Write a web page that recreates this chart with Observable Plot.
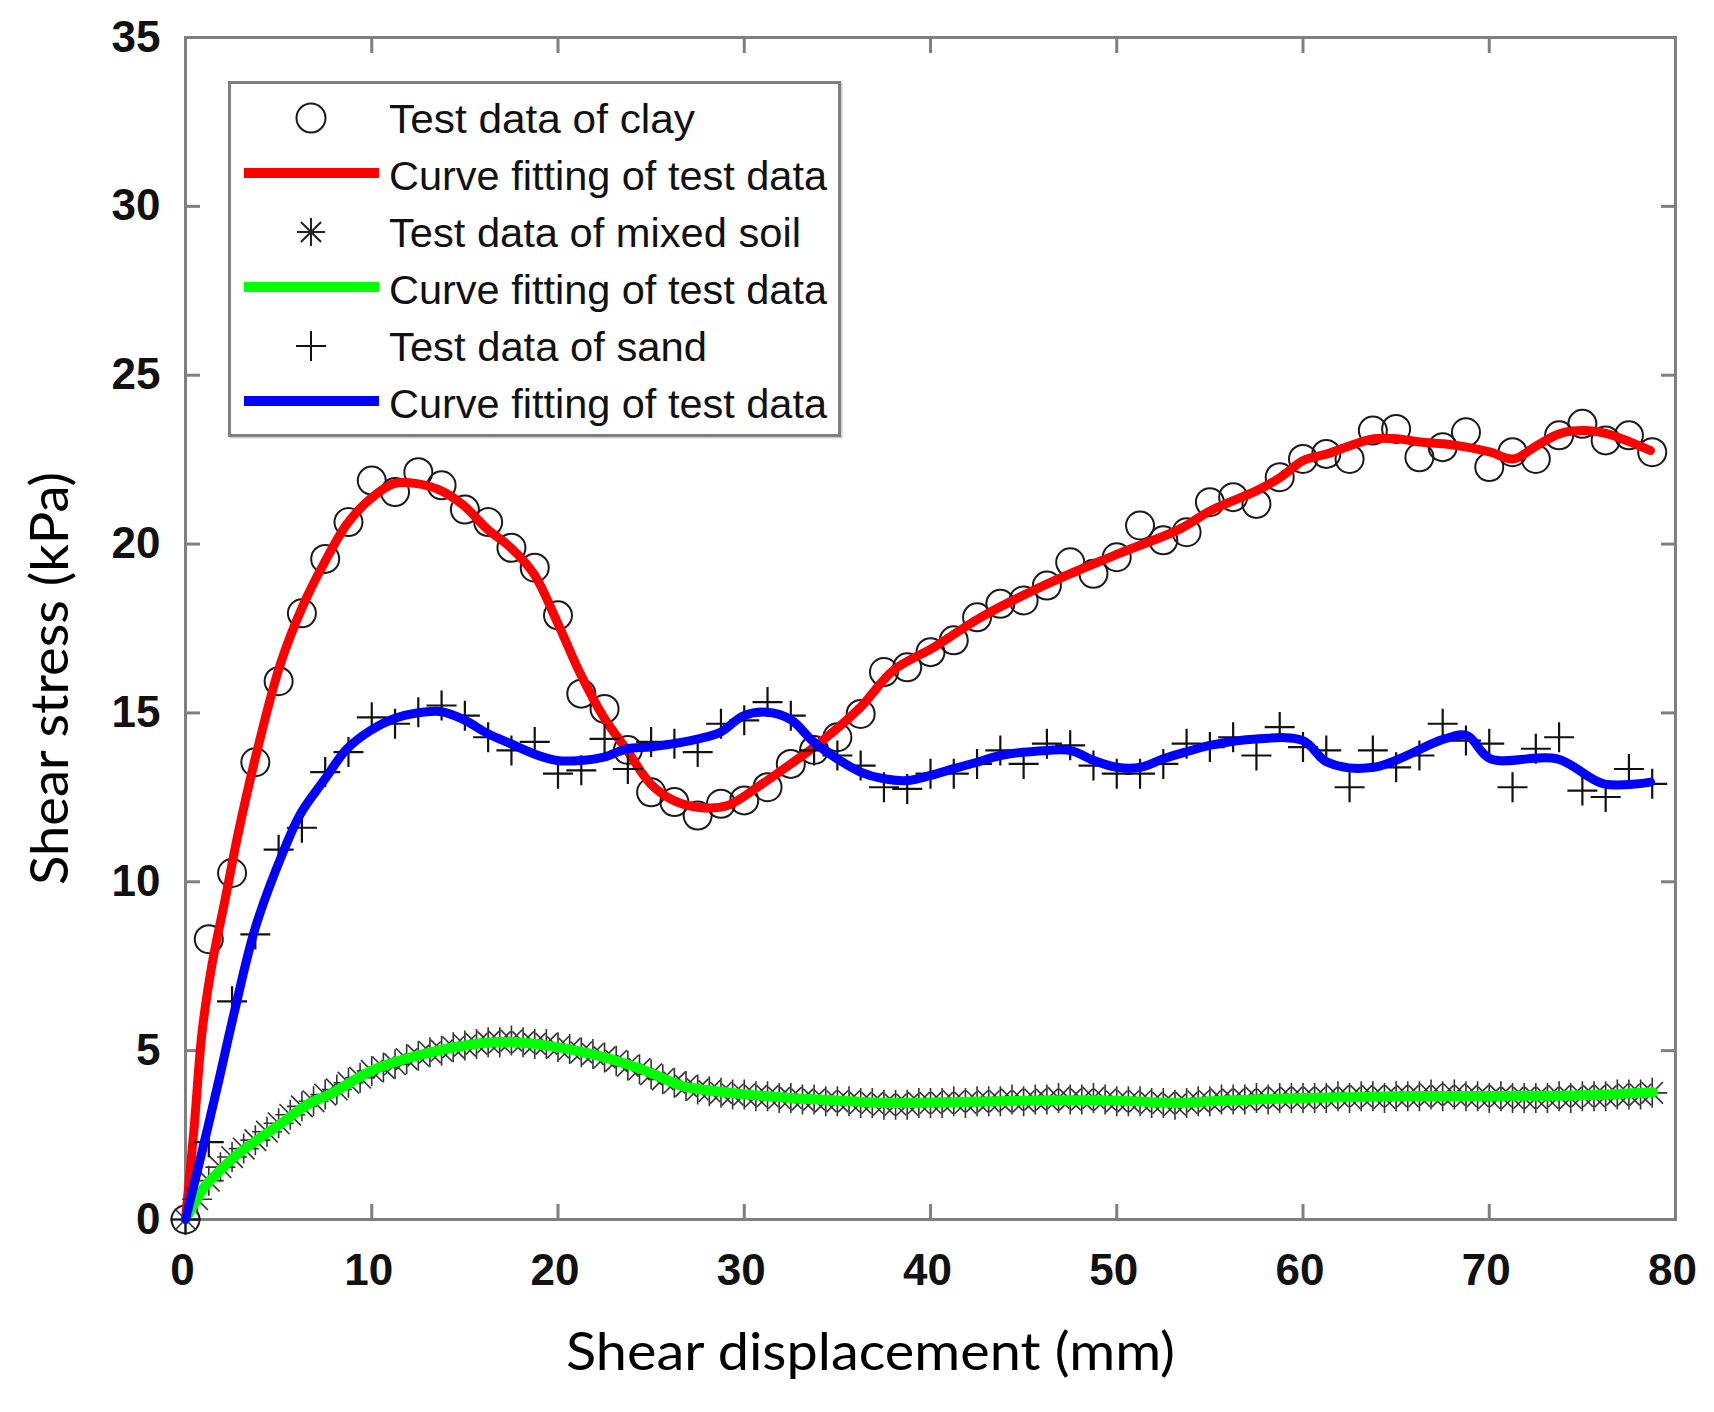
<!DOCTYPE html>
<html>
<head>
<meta charset="utf-8">
<script src="https://cdn.jsdelivr.net/npm/d3@7"></script>
<script src="https://cdn.jsdelivr.net/npm/@observablehq/plot@0.6"></script>
<style>
  html, body { margin: 0; padding: 0; background: #fff; }
  #chart { position: relative; width: 1714px; height: 1412px; }
</style>
</head>
<body>
<div id="chart"></div>
<script>
// ---------- data ----------
const clayDisp = [0, 1.25, 2.5, 3.75, 5, 6.25, 7.5, 8.75, 10, 11.25, 12.5, 13.75, 15, 16.25, 17.5, 18.75, 20, 21.25, 22.5, 23.75, 25, 26.25, 27.5, 28.75, 30, 31.25, 32.5, 33.75, 35, 36.25, 37.5, 38.75, 40, 41.25, 42.5, 43.75, 45, 46.25, 47.5, 48.75, 50, 51.25, 52.5, 53.75, 55, 56.25, 57.5, 58.75, 60, 61.25, 62.5, 63.75, 65, 66.25, 67.5, 68.75, 70, 71.25, 72.5, 73.75, 75, 76.25, 77.5, 78.75];
const clayStress = [0, 8.3, 10.26, 13.54, 15.94, 17.95, 19.56, 20.65, 21.88, 21.54, 22.13, 21.74, 21.02, 20.65, 19.89, 19.3, 17.89, 15.57, 15.12, 13.9, 12.65, 12.36, 11.96, 12.31, 12.41, 12.8, 13.49, 13.9, 14.28, 14.97, 16.21, 16.35, 16.8, 17.15, 17.83, 18.23, 18.33, 18.77, 19.46, 19.12, 19.61, 20.55, 20.11, 20.35, 21.24, 21.39, 21.19, 21.98, 22.52, 22.67, 22.52, 23.36, 23.41, 22.57, 22.87, 23.31, 22.28, 22.72, 22.52, 23.22, 23.56, 23.07, 23.22, 22.72];

const clayFitDisp = [0, 0.45, 0.9, 1.43, 2.15, 2.86, 3.85, 5.1, 6.35, 7.43, 8.68, 9.93, 11.18, 12.43, 13.69, 14.94, 16.19, 17.45, 18.7, 19.96, 21.2, 22.46, 23.71, 24.97, 26.2, 27.6, 29.1, 30.7, 32.5, 34.1, 36.24, 38.0, 40.2, 42.7, 46.27, 49.84, 53.4, 55.03, 57.54, 58.8, 60.04, 61.3, 62.55, 63.8, 65.06, 66.3, 67.56, 68.8, 70.07, 71.3, 72.57, 73.8, 75.08, 76.3, 77.58, 78.66];
const clayFitStress = [0, 2.64, 5.6, 7.57, 9.54, 11.52, 13.89, 16.46, 18.23, 19.42, 20.6, 21.34, 21.79, 21.79, 21.59, 21.14, 20.45, 19.9, 19.12, 17.69, 16.16, 14.87, 13.89, 12.9, 12.41, 12.2, 12.26, 12.8, 13.49, 14.14, 15.17, 16.26, 16.95, 17.83, 18.82, 19.66, 20.45, 20.99, 21.59, 21.98, 22.48, 22.67, 22.92, 23.12, 23.12, 23.02, 22.97, 22.87, 22.72, 22.52, 22.92, 23.27, 23.36, 23.27, 23.02, 22.77];

const mixedDisp = [0, 0.625, 1.25, 1.875, 2.5, 3.125, 3.75, 4.375, 5, 5.625, 6.25, 6.875, 7.5, 8.125, 8.75, 9.375, 10, 10.625, 11.25, 11.875, 12.5, 13.125, 13.75, 14.375, 15, 15.625, 16.25, 16.875, 17.5, 18.125, 18.75, 19.375, 20, 20.625, 21.25, 21.875, 22.5, 23.125, 23.75, 24.375, 25, 25.625, 26.25, 26.875, 27.5, 28.125, 28.75, 29.375, 30, 30.625, 31.25, 31.875, 32.5, 33.125, 33.75, 34.375, 35, 35.625, 36.25, 36.875, 37.5, 38.125, 38.75, 39.375, 40, 40.625, 41.25, 41.875, 42.5, 43.125, 43.75, 44.375, 45, 45.625, 46.25, 46.875, 47.5, 48.125, 48.75, 49.375, 50, 50.625, 51.25, 51.875, 52.5, 53.125, 53.75, 54.375, 55, 55.625, 56.25, 56.875, 57.5, 58.125, 58.75, 59.375, 60, 60.625, 61.25, 61.875, 62.5, 63.125, 63.75, 64.375, 65, 65.625, 66.25, 66.875, 67.5, 68.125, 68.75, 69.375, 70, 70.625, 71.25, 71.875, 72.5, 73.125, 73.75, 74.375, 75, 75.625, 76.25, 76.875, 77.5, 78.125, 78.75];
const mixedStress = [0, 0.6, 1.15, 1.55, 1.85, 2.1, 2.35, 2.6, 2.85, 3.1, 3.35, 3.5, 3.7, 3.85, 4.05, 4.2, 4.4, 4.5, 4.6, 4.75, 4.85, 4.95, 5.0, 5.1, 5.15, 5.2, 5.25, 5.25, 5.3, 5.25, 5.2, 5.2, 5.1, 5.05, 4.95, 4.9, 4.8, 4.7, 4.55, 4.45, 4.3, 4.15, 4.05, 3.95, 3.85, 3.8, 3.75, 3.7, 3.7, 3.65, 3.65, 3.6, 3.6, 3.55, 3.55, 3.5, 3.5, 3.5, 3.45, 3.45, 3.4, 3.4, 3.4, 3.45, 3.45, 3.45, 3.5, 3.45, 3.5, 3.5, 3.5, 3.55, 3.5, 3.55, 3.55, 3.6, 3.55, 3.55, 3.6, 3.55, 3.5, 3.5, 3.5, 3.45, 3.45, 3.4, 3.45, 3.5, 3.5, 3.55, 3.55, 3.55, 3.6, 3.55, 3.6, 3.6, 3.6, 3.6, 3.6, 3.65, 3.6, 3.65, 3.65, 3.6, 3.65, 3.65, 3.65, 3.7, 3.65, 3.7, 3.65, 3.65, 3.6, 3.65, 3.6, 3.6, 3.6, 3.6, 3.65, 3.6, 3.65, 3.65, 3.65, 3.7, 3.7, 3.7, 3.75];

const mixedFitDisp = [0, 0.5, 1.0, 2.42, 3.04, 5.1, 6.62, 7.79, 10.2, 13.15, 15.84, 17.63, 19.42, 22.1, 24.43, 26.58, 27.1, 29.8, 32.5, 35.2, 38.0, 40.5, 45, 50, 53.4, 55, 60, 65, 70, 75, 78.8];
const mixedFitStress = [0, 0.5, 0.95, 1.75, 2.04, 2.83, 3.43, 3.72, 4.46, 4.95, 5.22, 5.25, 5.15, 4.86, 4.46, 3.97, 3.9, 3.72, 3.6, 3.52, 3.45, 3.47, 3.52, 3.52, 3.45, 3.5, 3.6, 3.65, 3.66, 3.68, 3.77];

const sandDisp = [0, 1.25, 2.5, 3.75, 5, 6.25, 7.5, 8.75, 10, 11.25, 12.5, 13.75, 15, 16.25, 17.5, 18.75, 20, 21.25, 22.5, 23.75, 25, 26.25, 27.5, 28.75, 30, 31.25, 32.5, 33.75, 35, 36.25, 37.5, 38.75, 40, 41.25, 42.5, 43.75, 45, 46.25, 47.5, 48.75, 50, 51.25, 52.5, 53.75, 55, 56.25, 57.5, 58.75, 60, 61.25, 62.5, 63.75, 65, 66.25, 67.5, 68.75, 70, 71.25, 72.5, 73.75, 75, 76.25, 77.5, 78.75];
const sandStress = [0, 2.29, 6.46, 8.44, 10.95, 11.6, 13.25, 13.84, 14.87, 14.68, 15.02, 15.22, 14.92, 14.28, 13.89, 14.14, 13.2, 13.3, 14.23, 13.34, 14.14, 14.09, 13.84, 14.68, 14.78, 15.32, 14.92, 13.89, 13.74, 13.44, 12.8, 12.75, 13.2, 13.2, 13.49, 13.89, 13.49, 14.09, 14.04, 13.44, 13.2, 13.2, 13.49, 14.09, 13.99, 14.28, 13.74, 14.58, 13.99, 13.89, 12.8, 13.89, 13.39, 13.74, 14.68, 14.18, 14.09, 12.8, 13.94, 14.28, 12.7, 12.51, 13.34, 12.9];

const sandFitDisp = [0, 0.9, 1.79, 2.6, 3.76, 5.28, 6.17, 7.43, 8.68, 9.93, 11.18, 12.43, 13.69, 14.94, 16.19, 17.45, 18.7, 19.96, 21.2, 22.46, 23.71, 24.97, 26.2, 27.6, 28.72, 29.98, 31.26, 32.5, 33.73, 35.0, 36.24, 37.5, 38.75, 40, 41.25, 42.5, 43.76, 46.27, 47.5, 48.77, 50.0, 51.28, 52.5, 53.75, 55.0, 57.5, 60.0, 61.3, 63.8, 67.6, 68.8, 70.07, 73.65, 76.15, 78.66];
const sandFitStress = [0, 2.04, 4.12, 6.09, 8.66, 10.93, 12.01, 13.0, 13.94, 14.48, 14.83, 15.0, 15.04, 14.8, 14.4, 14.09, 13.79, 13.59, 13.59, 13.69, 13.94, 13.99, 14.09, 14.24, 14.43, 14.92, 15.02, 14.8, 14.14, 13.64, 13.25, 13.05, 13.0, 13.15, 13.35, 13.54, 13.74, 13.89, 13.89, 13.59, 13.39, 13.39, 13.64, 13.85, 14.04, 14.23, 14.18, 13.54, 13.39, 14.23, 14.33, 13.64, 13.64, 12.9, 12.95];

const xTicks = [0, 10, 20, 30, 40, 50, 60, 70, 80];
const yTicks = [0, 5, 10, 15, 20, 25, 30, 35];
const xLabel = "Shear displacement (mm)";
const yLabel = "Shear stress (kPa)";
const legendLabels = ["Test data of clay", "Curve fitting of test data", "Test data of mixed soil", "Curve fitting of test data", "Test data of sand", "Curve fitting of test data"];

// ---------- helpers ----------
const zip = (xs, ys) => xs.map((x, i) => ({x, y: ys[i]}));
const plusSymbol = {draw(ctx, size) {
  const r = Math.sqrt(size / Math.PI);
  ctx.moveTo(-r, 0); ctx.lineTo(r, 0); ctx.moveTo(0, -r); ctx.lineTo(0, r);
}};
const starSymbol = {draw(ctx, size) {
  const r = Math.sqrt(size / Math.PI), d = r * 0.72;
  ctx.moveTo(0, -r); ctx.lineTo(0, r); ctx.moveTo(-r, 0); ctx.lineTo(r, 0);
  ctx.moveTo(-d, -d); ctx.lineTo(d, d); ctx.moveTo(-d, d); ctx.lineTo(d, -d);
}};

const clay = zip(clayDisp, clayStress);
const clayFit = zip(clayFitDisp, clayFitStress);
const mixed = zip(mixedDisp, mixedStress);
const mixedFit = zip(mixedFitDisp, mixedFitStress);
const sand = zip(sandDisp, sandStress);
const sandFit = zip(sandFitDisp, sandFitStress);

const tickFont = "'Liberation Sans', Arial, sans-serif";
const labelFont = "Lato, 'Open Sans', sans-serif";
const gray = "#7f7f7f";

const plot = Plot.plot({
  width: 1714,
  height: 1412,
  marginLeft: 185,
  marginRight: 39,
  marginTop: 37,
  marginBottom: 193,
  style: {background: "#fff", fontFamily: tickFont},
  x: {domain: [0, 80]},
  y: {domain: [0, 35]},
  marks: [
    // inward ticks on all four sides
    Plot.axisX(xTicks, {anchor: "bottom", tickSize: -15, tickFormat: () => "", stroke: gray, strokeWidth: 3, label: null}),
    Plot.axisX(xTicks, {anchor: "top", tickSize: -15, tickFormat: () => "", stroke: gray, strokeWidth: 3, label: null}),
    Plot.axisY(yTicks, {anchor: "left", tickSize: -15, tickFormat: () => "", stroke: gray, strokeWidth: 3, label: null}),
    Plot.axisY(yTicks, {anchor: "right", tickSize: -15, tickFormat: () => "", stroke: gray, strokeWidth: 3, label: null}),
    // tick labels
    Plot.axisX(xTicks, {anchor: "bottom", tickSize: 0, tickPadding: 34, dx: -3, fontSize: 44, fontWeight: "bold", fontFamily: tickFont, fill: "#111", label: null}),
    Plot.axisY(yTicks, {anchor: "left", tickSize: 0, tickPadding: 25, fontSize: 44, fontWeight: "bold", fontFamily: tickFont, fill: "#111", label: null}),
    Plot.frame({stroke: gray, strokeWidth: 3}),
    // axis titles
    Plot.text([xLabel], {text: d => d, frameAnchor: "bottom", textAnchor: "middle", dx: -60, dy: 150, fontSize: 52, fontFamily: labelFont, fill: "#000", className: "xlab"}),
    Plot.text([yLabel], {text: d => d, frameAnchor: "left", textAnchor: "middle", rotate: -90, dx: -134, dy: 50, fontSize: 52, fontFamily: labelFont, fill: "#000", className: "ylab"}),
    // data, in the original drawing order
    Plot.dot(clay, {x: "x", y: "y", symbol: "circle", r: 14, fill: "none", stroke: "#1a1a1a", strokeWidth: 2}),
    Plot.line(clayFit, {x: "x", y: "y", stroke: "#ff0000", strokeWidth: 9, curve: "catmull-rom"}),
    Plot.dot(mixed, {x: "x", y: "y", symbol: starSymbol, r: 15, fill: "none", stroke: "#333", strokeWidth: 1.6}),
    Plot.line(mixedFit, {x: "x", y: "y", stroke: "#00ff00", strokeWidth: 10, curve: "catmull-rom"}),
    Plot.dot(sand, {x: "x", y: "y", symbol: plusSymbol, r: 15, fill: "none", stroke: "#111", strokeWidth: 2.2}),
    Plot.line(sandFit, {x: "x", y: "y", stroke: "#0000ff", strokeWidth: 9, curve: "catmull-rom"})
  ]
});

document.getElementById("chart").appendChild(plot);

// fit axis titles to the measured widths
d3.select(plot).selectAll(".xlab text").attr("textLength", 609).attr("lengthAdjust", "spacingAndGlyphs");
d3.select(plot).selectAll(".ylab text").attr("textLength", 413).attr("lengthAdjust", "spacingAndGlyphs");

// ---------- legend (inside the axes, upper left) ----------
const svg = d3.select(plot);
const lg = svg.append("g").attr("class", "legend").attr("text-anchor", "start");
lg.append("rect").attr("x", 231).attr("y", 84).attr("width", 610).attr("height", 353).attr("fill", "none").attr("stroke", "#cfcfcf").attr("stroke-width", 3);
lg.append("rect").attr("x", 229.5).attr("y", 82.5).attr("width", 610).attr("height", 353).attr("fill", "#fff").attr("stroke", gray).attr("stroke-width", 3);
const kinds = ["circle", "red", "star", "green", "plus", "blue"];
const widths = [306, 438, 412, 438, 318, 438];
const colors = {red: "#ff0000", green: "#00ff00", blue: "#0000ff"};
kinds.forEach((k, i) => {
  const base = 133 + i * 57;
  const cy = base - 15;
  if (k === "circle") {
    lg.append("circle").attr("cx", 311).attr("cy", cy).attr("r", 14.5).attr("fill", "none").attr("stroke", "#1a1a1a").attr("stroke-width", 2);
  } else if (k === "star") {
    const p = d3.path(); starSymbol.draw(p, Math.PI * 14 * 14);
    lg.append("path").attr("d", p.toString()).attr("transform", `translate(311,${cy})`).attr("fill", "none").attr("stroke", "#222").attr("stroke-width", 2);
  } else if (k === "plus") {
    const p = d3.path(); plusSymbol.draw(p, Math.PI * 15 * 15);
    lg.append("path").attr("d", p.toString()).attr("transform", `translate(311,${cy})`).attr("fill", "none").attr("stroke", "#111").attr("stroke-width", 2);
  } else {
    lg.append("line").attr("x1", 244).attr("x2", 379).attr("y1", base - 17).attr("y2", base - 17).attr("stroke", colors[k]).attr("stroke-width", 10);
  }
  lg.append("text").attr("x", 389).attr("y", base).attr("text-anchor", "start").text(legendLabels[i])
    .attr("font-family", "'Liberation Sans', Arial, sans-serif").attr("font-size", 40).attr("fill", "#111")
    .attr("textLength", widths[i]).attr("lengthAdjust", "spacingAndGlyphs");
});
</script>
</body>
</html>
